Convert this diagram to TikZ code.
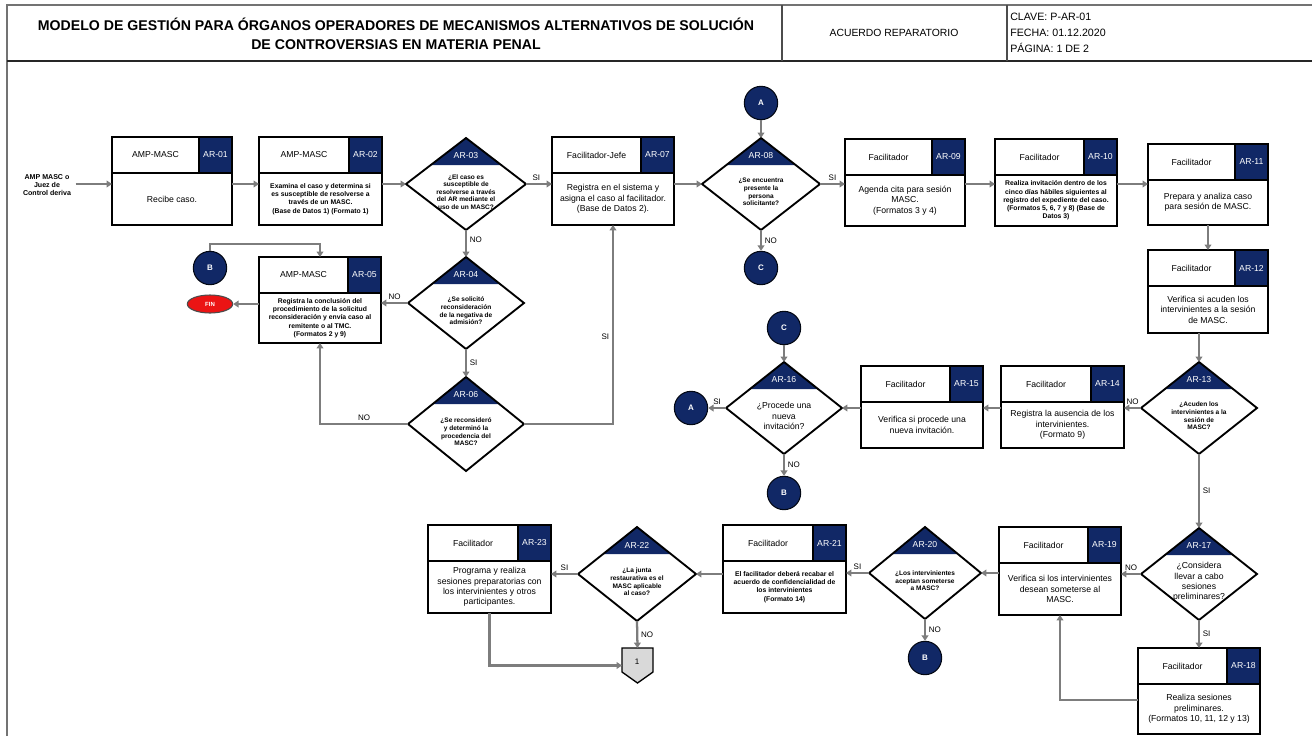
\documentclass[tikz,border=0pt]{standalone}
\usepackage{fontspec}
\setmainfont{Liberation Sans}
\usetikzlibrary{fit,arrows.meta,calc,shapes.geometric}

\definecolor{navy}{RGB}{17,40,102}
\definecolor{arrgray}{RGB}{125,125,125}
\definecolor{finred}{RGB}{235,20,20}
\definecolor{offgray}{RGB}{217,217,217}

\tikzset{
 boxline/.style={draw=black, line width=1.4pt},
 arr/.style={draw=arrgray, line width=1.7pt, -{Triangle[length=4pt,width=5pt]}},
 lbl/.style={font=\fontsize{6}{7}\selectfont, inner sep=2pt},
 roletxt/.style={font=\fontsize{6.5}{8}\selectfont},
 idtxt/.style={font=\fontsize{6.5}{8}\selectfont, text=white},
 bigtxt/.style={font=\fontsize{6.5}{7.8}\selectfont, align=center},
 smalltxt/.style={font=\bfseries\fontsize{5.1}{6.2}\selectfont, align=center},
 dtxt/.style={font=\bfseries\fontsize{4.9}{5.7}\selectfont, align=center},
 conn/.style={circle, fill=navy, draw=black!80!navy, line width=0.8pt, minimum size=25pt, inner sep=0pt, text=white, font=\bfseries\fontsize{6}{7}\selectfont},
 boundbox/.style={inner sep=0pt, outer sep=0pt},
}

% name, x1, y1, x2, y2, role, id, text style, text
\newcommand{\procbox}[9]{%
 \node[boundbox, fit={(#2,#3) (#4,#5)}, fill=white] (#1) {};
 \fill[navy] ({#4-33},#3) rectangle (#4,{#3+36});
 \draw[line width=1.4pt] (#2,{#3+36}) -- (#4,{#3+36}) ({#4-33},#3) -- ({#4-33},{#3+36});
 \draw[boxline] (#1.north west) rectangle (#1.south east);
 \node[roletxt] (#1r) at ({(#2+#4-33)/2},{#3+18}) {#6};
 \node[idtxt] (#1i) at ({#4-16.5},{#3+18}) {#7};
 \node[#8] (#1t) at ({(#2+#4)/2},{(#3+36+#5)/2}) {#9};
}
% name, cx, cy, hw, hh, id, text style, text
\newcommand{\decbox}[8]{%
 \node[boundbox, fit={({#2-#4},{#3-#5}) ({#2+#4},{#3+#5})}] (#1) {};
 \fill[white] (#1.north) -- (#1.east) -- (#1.south) -- (#1.west) -- cycle;
 \fill[navy] (#1.north) -- ({#2+#4*27/#5},{#3-#5+27}) -- ({#2-#4*27/#5},{#3-#5+27}) -- cycle;
 \draw[boxline, line join=miter] (#1.north) -- (#1.east) -- (#1.south) -- (#1.west) -- cycle;
 \node[idtxt] (#1i) at (#2,{#3-#5+18}) {#6};
 \node[#7] (#1t) at (#2,{#3+8}) {#8};
}

\begin{document}
\begin{tikzpicture}[x=0.75pt,y=-0.75pt]
\useasboundingbox (0,0) rectangle (1312,736);
\fill[white] (0,0) rectangle (1312,736);

% header frame
\draw[line width=1.1pt, draw=black!55] (7,736) -- (7,5) -- (1312,5);
\draw[line width=1pt, draw=black!85] (7,61) -- (1312,61);
\draw[line width=0.8pt, draw=black!70] (782,5) -- (782,61) (1007,5) -- (1007,61);
\node[font=\bfseries\fontsize{10.6}{13.8}\selectfont, align=center] (title) at (396,34) {MODELO DE GESTIÓN PARA ÓRGANOS OPERADORES DE MECANISMOS ALTERNATIVOS DE SOLUCIÓN\\DE CONTROVERSIAS EN MATERIA PENAL};
\node[font=\fontsize{7.8}{9.75}\selectfont] (doc) at (894,33) {ACUERDO REPARATORIO};
\node[font=\fontsize{8}{12}\selectfont, align=left, anchor=west, inner sep=0pt] (clave) at (1010,33) {CLAVE: P-AR-01\\FECHA: 01.12.2020\\PÁGINA: 1 DE 2};

\coordinate (r1) at (0,184);
\coordinate (bk) at (210,244);
\coordinate (r18) at (0,700);

% row 1
\node[font=\bfseries\fontsize{5.3}{6.2}\selectfont, align=center] (src) at (47,185) {AMP MASC o\\Juez de\\Control deriva};
\procbox{ar01}{112}{137}{232}{225}{AMP-MASC}{AR-01}{bigtxt}{Recibe caso.}
\procbox{ar02}{259}{137}{382}{225}{AMP-MASC}{AR-02}{smalltxt}{Examina el caso y determina si\\es susceptible de resolverse a\\través de un MASC.\\(Base de Datos 1) (Formato 1)}
\decbox{ar03}{466}{184}{60}{46}{AR-03}{dtxt}{¿El caso es\\susceptible de\\resolverse a través\\del AR mediante el\\uso de un MASC?}
\procbox{ar07}{552}{137}{674}{225}{Facilitador-Jefe}{AR-07}{bigtxt}{Registra en el sistema y\\asigna el caso al facilitador.\\(Base de Datos 2).}
\decbox{ar08}{761}{184}{59}{46}{AR-08}{dtxt}{¿Se encuentra\\presente la\\persona\\solicitante?}
\node[conn] (a1) at (761,103) {A};
\node[conn] (c1) at (761,268) {C};
\procbox{ar09}{845}{139}{965}{226}{Facilitador}{AR-09}{bigtxt}{Agenda cita para sesión\\MASC.\\(Formatos 3 y 4)}
\procbox{ar10}{995}{139}{1117}{226}{Facilitador}{AR-10}{smalltxt}{Realiza invitación dentro de los\\cinco días hábiles siguientes al\\registro del expediente del caso.\\(Formatos 5, 6, 7 y 8) (Base de\\Datos 3)}
\procbox{ar11}{1148}{144}{1268}{225}{Facilitador}{AR-11}{bigtxt}{Prepara y analiza caso\\para sesión de MASC.}
\procbox{ar12}{1148}{250}{1268}{333}{Facilitador}{AR-12}{bigtxt}{Verifica si acuden los\\intervinientes a la sesión\\de MASC.}

% row 2 left
\decbox{ar04}{466}{303}{58}{46}{AR-04}{dtxt}{¿Se solicitó\\reconsideración\\de la negativa de\\admisión?}
\procbox{ar05}{259}{257}{381}{343}{AMP-MASC}{AR-05}{smalltxt}{Registra la conclusión del\\procedimiento de la solicitud\\reconsideración y envía caso al\\remitente o al TMC.\\(Formatos 2 y 9)}
\node[conn] (b1) at (210,268) {B};
\node[ellipse, fill=finred, draw=black!70, line width=0.8pt, minimum width=34pt, minimum height=13.5pt, inner sep=0pt, text=white, font=\bfseries\fontsize{4.5}{5}\selectfont] (fin) at (210,304) {FIN};
\decbox{ar06}{466}{424}{58}{47}{AR-06}{dtxt}{¿Se reconsideró\\y determinó la\\procedencia del\\MASC?}

% row 2 right
\decbox{ar13}{1199}{408}{58}{46}{AR-13}{dtxt}{¿Acuden los\\intervinientes a la\\sesión de\\MASC?}
\procbox{ar14}{1001}{366}{1124}{448}{Facilitador}{AR-14}{bigtxt}{Registra la ausencia de los\\intervinientes.\\(Formato 9)}
\procbox{ar15}{861}{366}{983}{448}{Facilitador}{AR-15}{bigtxt}{Verifica si procede una\\nueva invitación.}
\decbox{ar16}{784}{408}{58}{46}{AR-16}{bigtxt}{¿Procede una\\nueva\\invitación?}
\node[conn] (c2) at (784,328) {C};
\node[conn] (a2) at (691,408) {A};
\node[conn] (b2) at (784,493) {B};

% row 3
\decbox{ar17}{1199}{574}{58}{46}{AR-17}{bigtxt}{¿Considera\\llevar a cabo\\sesiones\\preliminares?}
\procbox{ar18}{1138}{648}{1260}{734}{Facilitador}{AR-18}{bigtxt}{Realiza sesiones\\preliminares.\\(Formatos 10, 11, 12 y 13)}
\procbox{ar19}{999}{527}{1121}{615}{Facilitador}{AR-19}{bigtxt}{Verifica si los intervinientes\\desean someterse al\\MASC.}
\decbox{ar20}{925}{573}{56}{46}{AR-20}{dtxt}{¿Los intervinientes\\aceptan someterse\\a MASC?}
\node[conn] (b3) at (925,658) {B};
\procbox{ar21}{723}{525}{846}{613}{Facilitador}{AR-21}{smalltxt}{El facilitador deberá recabar el\\acuerdo de confidencialidad de\\los intervinientes\\(Formato 14)}
\decbox{ar22}{637}{574}{59}{47}{AR-22}{dtxt}{¿La junta\\restaurativa es el\\MASC aplicable\\al caso?}
\procbox{ar23}{428}{525}{551}{613}{Facilitador}{AR-23}{bigtxt}{Programa y realiza\\sesiones preparatorias con\\los intervinientes y otros\\participantes.}
\node[boundbox, fit={(622,648) (653,683)}] (off1) {};
\filldraw[fill=offgray, draw=black, line width=1pt, line join=miter] (off1.north west) -- (off1.north east) -- ($(off1.south east)+(0,-11)$) -- (off1.south) -- ($(off1.south west)+(0,-11)$) -- cycle;
\node[font=\fontsize{6}{7}\selectfont] (off1t) at (637,662) {1};

% connectors
\draw[arr] (src.east |- r1) -- (ar01.west |- r1);
\draw[arr] (ar01.east |- r1) -- (ar02.west |- r1);
\draw[arr] (ar02.east |- r1) -- (ar03.west);
\draw[arr] (ar03.east) -- node[lbl, above, pos=0.4]{SI} (ar03.east -| ar07.west);
\draw[arr] (ar03.south) -- node[lbl, right, pos=0.35]{NO} (ar04.north);
\draw[arr] (ar04.west) -- node[lbl, above]{NO} (ar04.west -| ar05.east);
\draw[arr] (ar05.west |- fin) -- (fin.east);
\draw[arr] (b1.north) -- (bk) -| (ar05.north);
\draw[arr] (ar04.south) -- node[lbl, right]{SI} (ar06.north);
\draw[arr] (ar06.west) -| node[lbl, above, pos=0.25]{NO} (ar05.south);
\draw[arr] (ar06.east) -| node[lbl, left, pos=0.72]{SI} (ar07.south);
\draw[arr] (ar07.east |- r1) -- (ar08.west);
\draw[arr] (a1) -- (ar08.north);
\draw[arr] (ar08.south) -- node[lbl, right]{NO} (c1);
\draw[arr] (ar08.east) -- node[lbl, above]{SI} (ar08.east -| ar09.west);
\draw[arr] (ar09.east |- r1) -- (ar10.west |- r1);
\draw[arr] (ar10.east |- r1) -- (ar11.west |- r1);
\draw[arr] (ar11.south) -- (ar12.north);
\draw[arr] (ar13.north |- ar12.south) -- (ar13.north);
\draw[arr] (ar13.west) -- node[lbl, above]{NO} (ar13.west -| ar14.east);
\draw[arr] (ar14.west |- ar13.west) -- (ar15.east |- ar13.west);
\draw[arr] (ar16.east -| ar15.west) -- (ar16.east);
\draw[arr] (c2) -- (ar16.north);
\draw[arr] (ar16.west) -- node[lbl, above]{SI} (a2);
\draw[arr] (ar16.south) -- node[lbl, right]{NO} (b2);
\draw[arr] (ar13.south) -- node[lbl, right]{SI} (ar17.north);
\draw[arr] (ar17.west) -- node[lbl, above]{NO} (ar17.west -| ar19.east);
\draw[arr] (ar17.south) -- node[lbl, right]{SI} (ar18.north);
\draw[arr] (ar18.west |- r18) -| (ar19.south);
\draw[arr] (ar20.east -| ar19.west) -- (ar20.east);
\draw[arr] (ar20.west) -- node[lbl, above]{SI} (ar20.west -| ar21.east);
\draw[arr] (ar20.south) -- node[lbl, right]{NO} (b3);
\draw[arr] (ar22.east -| ar21.west) -- (ar22.east);
\draw[arr] (ar22.west) -- node[lbl, above]{SI} (ar22.west -| ar23.east);
\draw[arr] (ar22.south) -- node[lbl, right]{NO} (off1.north);
\draw[arr] (ar23.south) |- (off1.west);
\end{tikzpicture}
\end{document}
